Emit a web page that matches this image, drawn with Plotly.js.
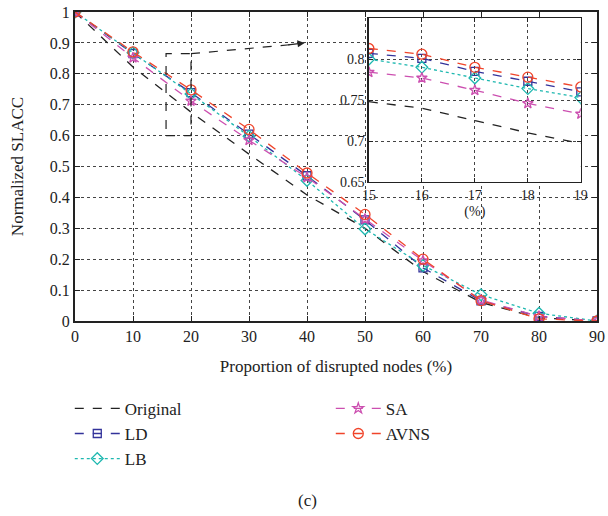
<!DOCTYPE html>
<html>
<head>
<meta charset="utf-8">
<script src="https://cdn.plot.ly/plotly-3.0.1.min.js"></script>
<style>html,body{margin:0;padding:0;background:#fff;}#chart{width:608px;height:516px;}</style>
</head>
<body>
<div id="chart"></div>
<script>
// Main chart data
var xMain = [0, 10, 20, 30, 40, 50, 60, 70, 80, 90];
var originalMain = [1, 0.822, 0.676, 0.54, 0.408, 0.30, 0.16, 0.06, 0.01, 0];
var ldMain = [1, 0.865, 0.739, 0.605, 0.47, 0.327, 0.172, 0.065, 0.015, 0];
var lbMain = [1, 0.868, 0.735, 0.598, 0.455, 0.298, 0.18, 0.085, 0.025, 0];
var saMain = [1, 0.852, 0.712, 0.585, 0.465, 0.33, 0.195, 0.068, 0.015, 0];
var avnsMain = [1, 0.871, 0.748, 0.62, 0.479, 0.345, 0.2, 0.066, 0.007, 0];

// Inset data
var xInset = [15, 16, 17, 18, 19];
var originalInset = [0.748, 0.740, 0.725, 0.710, 0.697];
var ldInset = [0.807, 0.801, 0.785, 0.773, 0.760];
var lbInset = [0.800, 0.790, 0.777, 0.764, 0.753];
var saInset = [0.784, 0.777, 0.762, 0.746, 0.733];
var avnsInset = [0.813, 0.806, 0.790, 0.778, 0.766];

var names = ['Original', 'LD', 'LB', 'SA', 'AVNS'];
var colors = ['#222222', '#33339a', '#1fb8b0', '#cc4fb0', '#f0442a'];
var dashes = ['dash', 'dash', 'dot', 'dash', 'dash'];
var symbols = [null, 'square-open', 'diamond-open', 'star-open', 'circle-open'];
var sizes = [0, 8, 9, 8, 10];
var mainSeries = [originalMain, ldMain, lbMain, saMain, avnsMain];
var insetSeries = [originalInset, ldInset, lbInset, saInset, avnsInset];
var legendIds = ['legend', 'legend', 'legend', 'legend2', 'legend2'];

var FONT = 'Liberation Serif, Times New Roman, serif';
var traces = [];
function makeTrace(xs, ys, i, xa, ya, showLeg) {
  var t = {
    x: xs, y: ys, name: names[i], type: 'scatter',
    mode: symbols[i] ? 'lines+markers' : 'lines',
    line: {color: colors[i], dash: dashes[i], width: 1.3},
    xaxis: xa, yaxis: ya, showlegend: showLeg
  };
  if (showLeg) t.legend = legendIds[i];
  if (symbols[i]) t.marker = {symbol: symbols[i], size: sizes[i], color: colors[i], line: {width: 1.3, color: colors[i]}};
  return t;
}
for (var i = 0; i < names.length; i++) traces.push(makeTrace(xMain, mainSeries[i], i, 'x', 'y', true));
for (var j = 0; j < names.length; j++) traces.push(makeTrace(xInset, insetSeries[j], j, 'x2', 'y2', false));

var gridCommon = {showgrid: true, gridcolor: '#444', griddash: 'dot', gridwidth: 1};

var layout = {
  width: 608, height: 516,
  margin: {l: 75, r: 11, t: 12, b: 195},
  paper_bgcolor: '#fff', plot_bgcolor: '#fff',
  font: {family: FONT, size: 16, color: '#222'},
  showlegend: true,
  xaxis: Object.assign({
    range: [0, 90], dtick: 10, tick0: 0, ticks: 'inside', ticklen: 5, tickcolor: '#222',
    showline: true, linecolor: '#222', linewidth: 2, mirror: 'ticks', zeroline: false,
    tickfont: {family: FONT, size: 16, color: '#222'},
    title: {text: 'Proportion of disrupted nodes (%)', font: {family: FONT, size: 17, color: '#222'}, standoff: 16},
    domain: [0, 1]
  }, gridCommon),
  yaxis: Object.assign({
    range: [0, 1], dtick: 0.1, tick0: 0, ticks: 'inside', ticklen: 5, tickcolor: '#222',
    showline: true, linecolor: '#222', linewidth: 2, mirror: 'ticks', zeroline: false,
    tickfont: {family: FONT, size: 16, color: '#222'},
    title: {text: 'Normalized SLACC', font: {family: FONT, size: 17, color: '#222'}, standoff: 22},
    domain: [0, 1]
  }, gridCommon),
  xaxis2: Object.assign({
    range: [15, 19], dtick: 1, ticks: 'inside', ticklen: 4, tickcolor: '#222',
    showline: true, linecolor: '#222', linewidth: 1.5, mirror: 'ticks', zeroline: false,
    tickfont: {family: FONT, size: 14, color: '#222'},
    title: {text: '(%)', font: {family: FONT, size: 14, color: '#222'}, standoff: 4},
    domain: [0.563, 0.969], anchor: 'y2'
  }, gridCommon),
  yaxis2: Object.assign({
    range: [0.65, 0.85], tickvals: [0.65, 0.7, 0.75, 0.8], ticks: 'inside', ticklen: 4, tickcolor: '#222',
    showline: true, linecolor: '#222', linewidth: 1.5, mirror: 'ticks', zeroline: false,
    tickfont: {family: FONT, size: 14, color: '#222'},
    domain: [0.45, 0.98], anchor: 'x2'
  }, gridCommon),
  legend: {
    x: -0.01, y: -0.226, xanchor: 'left', yanchor: 'top', orientation: 'v', itemwidth: 45,
    font: {family: FONT, size: 17, color: '#222'}, bgcolor: 'rgba(0,0,0,0)'
  },
  legend2: {
    x: 0.49, y: -0.226, xanchor: 'left', yanchor: 'top', orientation: 'v', itemwidth: 45,
    font: {family: FONT, size: 17, color: '#222'}, bgcolor: 'rgba(0,0,0,0)'
  },
  shapes: [
    {type: 'rect', xref: 'x', yref: 'y', x0: 15.7, x1: 20, y0: 0.6, y1: 0.865,
     line: {color: '#222', width: 1.2, dash: 'dash'}, fillcolor: 'rgba(0,0,0,0)'},
    {type: 'line', xref: 'x', yref: 'y', x0: 20, y0: 0.865, x1: 37, y1: 0.894,
     line: {color: '#222', width: 1.2, dash: 'dash'}}
  ],
  annotations: [
    {xref: 'x', yref: 'y', x: 39.6, y: 0.9, ax: 36.5, ay: 0.893, axref: 'x', ayref: 'y',
     showarrow: true, arrowhead: 2, arrowsize: 1.2, arrowwidth: 1.2, arrowcolor: '#222', text: ''},
    {xref: 'paper', yref: 'paper', x: 0.446, y: -0.58, xanchor: 'center', yanchor: 'middle',
     text: '(c)', showarrow: false, font: {family: FONT, size: 17, color: '#222'}}
  ]
};

Plotly.newPlot('chart', traces, layout, {staticPlot: true, displayModeBar: false});
</script>
</body>
</html>
